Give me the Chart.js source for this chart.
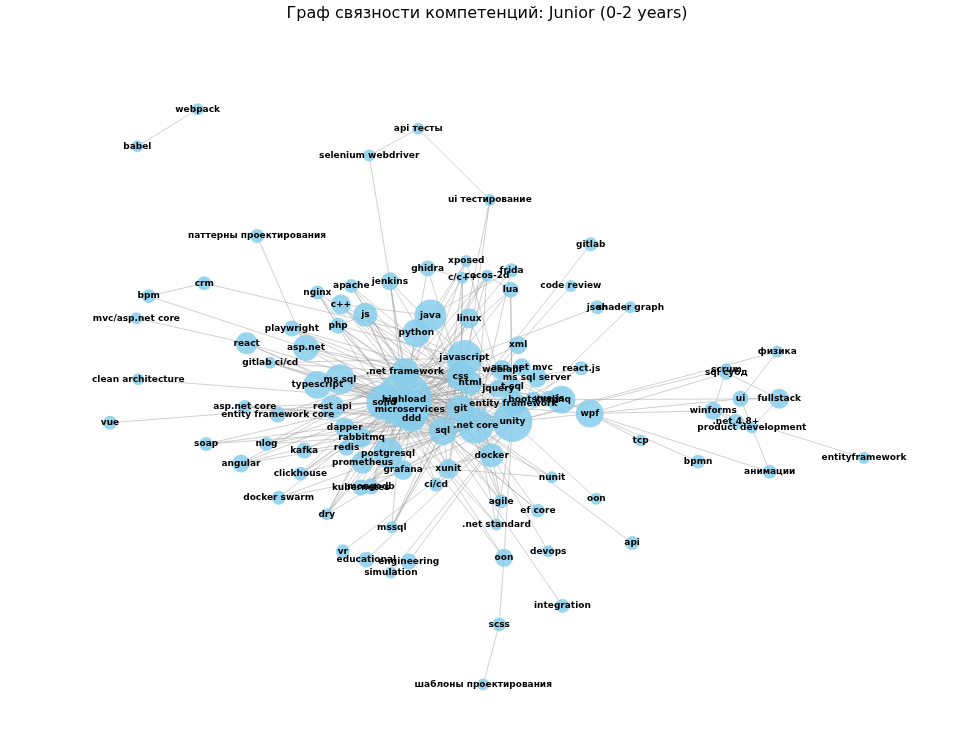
<!DOCTYPE html>
<html><head><meta charset="utf-8">
<script src="https://cdn.jsdelivr.net/npm/chart.js@4"></script>
<style>html,body{margin:0;padding:0;background:#fff}#c{display:block}</style>
</head><body><canvas id="c" width="974" height="743"></canvas>
<script>
const labels=["webpack","babel","api тесты","selenium webdriver","ui тестирование","паттерны проектирования","gitlab","crm","bpm","mvc/asp.net core","apache","jenkins","ghidra","xposed","c/c++","cocos-2d","frida","lua","code review","json","shader graph","nginx","c++","js","java","linux","playwright","php","python","react","asp.net","gitlab ci/cd","xml","javascript","asp.net mvc","web api","react.js","ms sql server",".net framework","ms sql","typescript","css","html","jquery","t-sql","clean architecture","scrum","физика","sql субд","ui","fullstack","linq","solid","highload","microservices","git","ddd","entity framework","bootstrap","vue.js","rest api","asp.net core","entity framework core","vue","wpf","winforms",".net 4.8+","product development","unity",".net core","sql","tcp","dapper","soap","nlog","rabbitmq","kafka","redis","angular","postgresql","bpmn","entityframework","анимации","docker","prometheus","grafana","xunit","clickhouse","nunit","ci/cd","kubernetes","mongodb","docker swarm","oon ","agile","dry","ef core",".net standard","mssql","api","devops","vr","educational","engineering","simulation","oon","integration","scss","шаблоны проектирования"];
const xs=[180,116,414,362,490,243,597,187,128,115,343,384,424,465,461,487,513,512,576,604,639,307,332,358,427,468,280,329,412,232,295,257,520,463,524,503,587,540,400,331,307,459,469,499,514,117,741,795,741,756,797,566,378,399,405,459,407,515,536,553,323,230,265,87,596,727,751,768,514,475,440,650,336,189,253,354,293,338,226,382,711,887,787,492,355,398,446,289,556,433,353,364,266,603,502,317,541,497,386,641,552,334,359,404,385,505,567,500,483];
const ys=[88,128,109,138,186,225,234,276,290,314,279,274,260,252,270,268,262,283,279,302,302,286,299,310,311,314,325,322,330,341,346,362,343,357,367,370,368,378,372,380,386,377,384,390,388,380,369,350,373,401,401,402,405,402,413,412,422,406,402,401,410,410,418,427,417,414,426,432,426,430,436,446,432,450,450,443,457,454,471,460,469,465,480,462,470,478,477,482,486,494,497,496,508,509,512,526,522,537,540,557,566,566,575,577,589,573,625,645,710];
const sizes=[6,6,6,6,6,7,7,7,7,6,7,9,8,6,6,6,7,8,6,7,6,7,10,12,16,10,8,8,14,11,13,6,9,18,9,10,7,10,14,15,14,14,12,9,9,6,6,6,7,8,10,14,18,28,20,14,14,12,8,8,12,7,8,7,14,9,8,6,20,18,14,6,10,7,7,10,8,8,9,15,7,6,7,12,11,10,10,7,6,7,8,8,7,6,7,6,7,6,6,7,6,7,8,8,6,9,7,7,6];
const hubs=["highload","solid","microservices","ddd","git",".net core","sql","javascript","unity",".net framework","ms sql","css"];
const extraEdges=[["webpack","babel"],["api тесты","selenium webdriver"],["api тесты","ui тестирование"],["selenium webdriver","jenkins"],["ui тестирование","sql"],["ui тестирование","git"],["паттерны проектирования","asp.net"],["crm","bpm"],["bpm","asp.net"],["crm","python"],["mvc/asp.net core","react"],["scrum","winforms"],["физика","ui"],["физика","unity"],["sql субд","fullstack"],["sql субд","wpf"],["ui","fullstack"],["fullstack","product development"],["winforms",".net 4.8+"],["entityframework","winforms"],["анимации","ui"],["анимации","wpf"],["bpmn","wpf"],["tcp","wpf"],["json","shader graph"],["gitlab","git"],["code review","git"],["vue","highload"],["clean architecture","highload"],["integration","sql"],["scss","oon"],["шаблоны проектирования","scss"],["api",".net core"],["oon ","unity"],["devops","docker"],["simulation","unity"],["educational","unity"],["engineering","unity"],["vr","unity"],["scrum","unity"],["shader graph","unity"],["json","javascript"],["wpf","winforms"],["linq","wpf"],["ui","wpf"],["fullstack","linq"],["frida","java"],["xposed","java"],["ghidra","c/c++"],["cocos-2d","lua"],["lua","unity"],["c++","java"],["js","php"],["nginx","php"],["docker swarm","docker"],["dry","solid"],["mssql","sql"],["agile","docker"],["nunit","xunit"],["ef core","sql"],[".net standard",".net core"]];
const nodeIdx={};labels.forEach((l,i)=>nodeIdx[l]=i);
const edgePts=[];
function addEdge(a,b){const i=nodeIdx[a],j=nodeIdx[b];if(i===undefined||j===undefined||i===j)return;edgePts.push({x:xs[i],y:ys[i]},{x:xs[j],y:ys[j]},{x:xs[i],y:NaN});}
const far=new Set(["webpack","babel","api тесты","selenium webdriver","ui тестирование","scrum","физика","entityframework","шаблоны проектирования","scss","bpmn","анимации","tcp","product development","winforms",".net 4.8+","sql субд","ui","fullstack","gitlab","vue","clean architecture","integration","api","devops","oon ","vr","educational","engineering","simulation","паттерны проектирования","crm","bpm","mvc/asp.net core","shader graph","json","code review"]);
labels.forEach((l,i)=>{if(far.has(l)||hubs.includes(l))return;const n=2+(i%4);for(let k=0;k<n;k++)addEdge(l,hubs[(i*3+k*5)%hubs.length]);});
hubs.forEach((a,i)=>hubs.forEach((b,j)=>{if(j>i)addEdge(a,b);}));
extraEdges.forEach(e=>addEdge(e[0],e[1]));
const labelPlugin={id:'lbl',afterDatasetsDraw(ch){const c=ch.ctx,sx=ch.scales.x,sy=ch.scales.y;c.save();c.font='bold 9px "DejaVu Sans"';c.fillStyle='#000';c.textAlign='center';c.textBaseline='middle';labels.forEach((l,i)=>c.fillText(l.trim(),sx.getPixelForValue(xs[i]),sy.getPixelForValue(ys[i])));c.font='16px "DejaVu Sans"';c.fillText('Граф связности компетенций: Junior (0-2 years)',487,14);c.restore();}};
new Chart(document.getElementById('c'),{
 data:{datasets:[
  {type:'scatter',order:0,data:labels.map((l,i)=>({x:xs[i],y:ys[i]})),pointRadius:sizes,pointHoverRadius:sizes,backgroundColor:'rgba(135,206,235,0.85)',borderWidth:0},
  {type:'line',order:1,data:edgePts,borderColor:'rgba(150,150,150,0.45)',borderWidth:1,pointRadius:0,spanGaps:false,fill:false}
 ]},
 options:{responsive:false,animation:false,layout:{padding:0},
  plugins:{legend:{display:false},tooltip:{enabled:false}},
  scales:{x:{type:'linear',min:0,max:974,display:false},y:{type:'linear',min:0,max:743,reverse:true,display:false}}},
 plugins:[labelPlugin]
});
</script></body></html>
